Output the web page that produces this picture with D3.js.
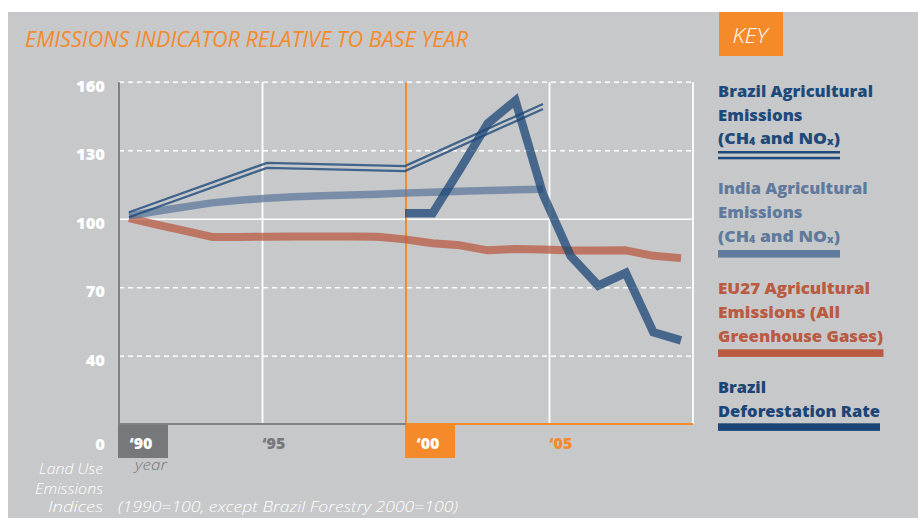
<!DOCTYPE html>
<html>
<head>
<meta charset="utf-8">
<script src="https://cdn.jsdelivr.net/npm/d3@7"></script>
<style>
  html, body { margin: 0; padding: 0; background: #ffffff; }
  svg { display: block; }
  text { font-family: "Open Sans", "DejaVu Sans", sans-serif; }
</style>
</head>
<body>
<svg id="chart" width="918" height="525"></svg>
<script>
// ---- Emissions indices (1990 = 100, Brazil forestry 2000 = 100) ----
const euYears = [1990, 1991, 1992, 1993, 1994, 1995, 1996, 1997, 1998, 1999, 2000,
                 2001, 2002, 2003, 2004, 2005, 2006, 2007, 2008, 2009, 2010];
const euValues = [100.5, 97.7, 95.0, 92.3, 92.3, 92.4, 92.5, 92.5, 92.5, 92.4, 91.2,
                  89.5, 88.6, 86.4, 87.0, 86.8, 86.3, 86.3, 86.4, 84.0, 83.0];

const indiaYears = [1990, 1991, 1992, 1993, 1994, 1995, 1996, 1997,
                    1998, 1999, 2000, 2001, 2002, 2003, 2004, 2005];
const indiaValues = [101.5, 103.5, 105.4, 107.2, 108.3, 109.2, 109.9, 110.3,
                     110.6, 111.0, 111.5, 111.9, 112.3, 112.6, 112.9, 113.2];

const brazilAgYears = [1990, 1995, 2000, 2005];
const brazilAgValues = [102.0, 123.6, 122.2, 149.4];

const forestYears = [2000, 2001, 2002, 2003, 2004, 2005, 2006, 2007, 2008, 2009, 2010];
const forestValues = [102.6, 102.6, 122.0, 142.0, 152.0, 111.0, 84.0, 71.0, 76.5, 50.5, 47.0];

// ---- Axis ticks ----
const yTicks = [0, 40, 70, 100, 130, 160];
const gridYears = [1990, 1995, 2000, 2005, 2010];
const yearLabels = ["\u201890", "\u201895", "\u201800", "\u201805"];

// ---- Colours ----
const BG = "#c7c8ca";
const ORANGE = "#f58a2a";
const DARKGREY = "#77787b";
const C_BRAZIL_AG = "#1e4a7b";
const C_INDIA = "#5f7a9c";
const C_EU = "#b95a41";
const C_FOREST = "#1b4576";

const svg = d3.select("#chart");

// Panel background
svg.append("rect")
  .attr("x", 8).attr("y", 12).attr("width", 910).attr("height", 506)
  .attr("fill", BG);

// Scales: grid columns span the whole plot, data years sit slightly inset
const y = d3.scaleLinear().domain([40, 160]).range([356.3, 82.3]);
const xGrid = d3.scaleLinear().domain([1990, 2010]).range([119, 693]);
const x = d3.scaleLinear().domain([1990, 2010]).range([129, 681]);
const plotTop = y(160);
const plotBottom = 424;

// Title
svg.append("text")
  .attr("x", 25).attr("y", 47)
  .attr("font-size", 21).attr("font-style", "italic").attr("font-weight", 400)
  .attr("fill", ORANGE)
  .attr("textLength", 443).attr("lengthAdjust", "spacingAndGlyphs")
  .text("EMISSIONS INDICATOR RELATIVE TO BASE YEAR");

// KEY tab
svg.append("rect")
  .attr("x", 719).attr("y", 12).attr("width", 64).attr("height", 44)
  .attr("fill", ORANGE);
svg.append("text")
  .attr("x", 750).attr("y", 42.5).attr("text-anchor", "middle")
  .attr("font-size", 20).attr("font-style", "italic").attr("font-weight", 300)
  .attr("fill", "#ffffff")
  .attr("textLength", 35).attr("lengthAdjust", "spacingAndGlyphs")
  .text("KEY");

// Horizontal grid
const grid = svg.append("g");
grid.selectAll("line.h")
  .data(yTicks.filter(v => v > 0))
  .join("line")
  .attr("x1", xGrid(1990)).attr("x2", xGrid(2010))
  .attr("y1", d => y(d)).attr("y2", d => y(d))
  .attr("stroke", "#ffffff")
  .attr("stroke-width", 1.6)
  .attr("stroke-dasharray", d => d === 100 ? null : "5,4");

// Vertical grid
grid.selectAll("line.v")
  .data(gridYears.filter(v => v > 1990))
  .join("line")
  .attr("x1", d => xGrid(d)).attr("x2", d => xGrid(d))
  .attr("y1", plotTop).attr("y2", plotBottom)
  .attr("stroke", d => d === 2000 ? ORANGE : "#ffffff")
  .attr("stroke-width", d => d === 2000 ? 2 : 1.8);

// Left axis and base line
svg.append("line")
  .attr("x1", xGrid(1990)).attr("x2", xGrid(1990))
  .attr("y1", plotTop).attr("y2", plotBottom + 1)
  .attr("stroke", "#808184").attr("stroke-width", 2);
svg.append("line")
  .attr("x1", xGrid(1990)).attr("x2", xGrid(2000))
  .attr("y1", plotBottom).attr("y2", plotBottom)
  .attr("stroke", "#808184").attr("stroke-width", 2);
svg.append("line")
  .attr("x1", xGrid(2000)).attr("x2", xGrid(2010))
  .attr("y1", plotBottom).attr("y2", plotBottom)
  .attr("stroke", ORANGE).attr("stroke-width", 2);

// Y tick labels
svg.append("g").selectAll("text")
  .data(yTicks)
  .join("text")
  .attr("x", 105)
  .attr("y", d => d === 0 ? 450 : y(d) + 9.3)
  .attr("text-anchor", "end")
  .attr("font-size", 16.5).attr("font-weight", 800)
  .attr("fill", "#ffffff")
  .text(d => d);

// Year labels along the base
const yearG = svg.append("g");
gridYears.slice(0, 4).forEach((yr, i) => {
  const boxed = yr === 1990 || yr === 2000;
  if (boxed) {
    yearG.append("rect")
      .attr("x", xGrid(yr) - 1).attr("y", plotBottom + 1)
      .attr("width", 50).attr("height", 33)
      .attr("fill", yr === 1990 ? DARKGREY : ORANGE);
  }
  yearG.append("text")
    .attr("x", boxed ? xGrid(yr) + 22 : xGrid(yr))
    .attr("y", 448.5)
    .attr("text-anchor", boxed ? "middle" : "start")
    .attr("font-size", 16).attr("font-weight", 800)
    .attr("fill", boxed ? "#ffffff" : (yr >= 2000 ? ORANGE : DARKGREY))
    .text(yearLabels[i]);
});

svg.append("text")
  .attr("x", 135).attr("y", 470)
  .attr("font-size", 15).attr("font-style", "italic").attr("font-weight", 300)
  .attr("fill", DARKGREY)
  .attr("textLength", 32).attr("lengthAdjust", "spacingAndGlyphs")
  .text("year");

// Y axis caption
const caption = [["Land Use", 474.3, 64], ["Emissions", 494, 68], ["Indices", 512.3, 55]];
caption.forEach(([t, by, w]) => {
  svg.append("text")
    .attr("x", 103).attr("y", by).attr("text-anchor", "end")
    .attr("font-size", 14).attr("font-style", "italic").attr("font-weight", 300)
    .attr("fill", "#ffffff")
    .attr("textLength", w).attr("lengthAdjust", "spacingAndGlyphs")
    .text(t);
});
svg.append("text")
  .attr("x", 118).attr("y", 511.7)
  .attr("font-size", 14.5).attr("font-style", "italic").attr("font-weight", 300)
  .attr("fill", "#ffffff")
  .attr("textLength", 340).attr("lengthAdjust", "spacingAndGlyphs")
  .text("(1990=100, except Brazil Forestry 2000=100)");

// ---- Series ----
const toPoints = (yrs, vals) => yrs.map((yr, i) => ({ year: yr, value: vals[i] }));
const line = d3.line().x(d => x(d.year)).y(d => y(d.value));

const lines = svg.append("g").attr("fill", "none");

// EU27 agriculture
lines.append("path")
  .attr("d", line(toPoints(euYears, euValues)))
  .attr("stroke", C_EU).attr("stroke-opacity", 0.75)
  .attr("stroke-width", 8).attr("stroke-linejoin", "round");

// India agriculture
lines.append("path")
  .attr("d", line(toPoints(indiaYears, indiaValues)))
  .attr("stroke", C_INDIA).attr("stroke-opacity", 0.75)
  .attr("stroke-width", 7.5).attr("stroke-linejoin", "round");

// Brazil agriculture: double rule
const brazilPts = toPoints(brazilAgYears, brazilAgValues);
[-2.5, 2.5].forEach(off => {
  const offLine = d3.line().x(d => x(d.year)).y(d => y(d.value) + off);
  lines.append("path")
    .attr("d", offLine(brazilPts))
    .attr("stroke", C_BRAZIL_AG).attr("stroke-opacity", 0.8)
    .attr("stroke-width", 2.3);
});

// Brazil deforestation
lines.append("path")
  .attr("d", line(toPoints(forestYears, forestValues)))
  .attr("stroke", C_FOREST).attr("stroke-opacity", 0.75)
  .attr("stroke-width", 8.5).attr("stroke-linejoin", "miter");

// ---- Key ----
const keyItems = [
  { color: C_BRAZIL_AG, swatch: "double",
    lines: [["Brazil Agricultural"], ["Emissions"], ["(CH", "4", " and NO", "x", ")"]],
    base: [96.7, 120.5, 144.3], widths: [155, 84.5, 122], sy: 151, sw: 122 },
  { color: C_INDIA, swatch: "bar",
    lines: [["India Agricultural"], ["Emissions"], ["(CH", "4", " and NO", "x", ")"]],
    base: [194, 218, 242], widths: [149.5, 84.5, 122], sy: 250, sw: 122 },
  { color: C_EU, swatch: "bar",
    lines: [["EU27 Agricultural"], ["Emissions (All"], ["Greenhouse Gases)"]],
    base: [294, 317.7, 341.5], widths: [152, 122, 165], sy: 349.3, sw: 165.5 },
  { color: C_FOREST, swatch: "bar",
    lines: [["Brazil"], ["Deforestation Rate"]],
    base: [392.7, 416.7], widths: [48, 162], sy: 423.3, sw: 162 }
];

const key = svg.append("g");
keyItems.forEach(item => {
  item.lines.forEach((parts, li) => {
    const t = key.append("text")
      .attr("x", 718).attr("y", item.base[li])
      .attr("font-size", 16.5).attr("font-weight", 800)
      .attr("fill", item.color)
      .attr("textLength", item.widths[li]).attr("lengthAdjust", "spacingAndGlyphs");
    parts.forEach((p, pi) => {
      const sub = pi % 2 === 1;
      t.append("tspan")
        .attr("font-size", sub ? 10 : null)
        .attr("dy", sub ? 1 : (pi > 0 ? -1 : null))
        .text(p);
    });
  });
  if (item.swatch === "double") {
    [item.sy + 1.2, item.sy + 7].forEach(ly => {
      key.append("rect")
        .attr("x", 718).attr("y", ly - 1.2)
        .attr("width", item.sw).attr("height", 2.5)
        .attr("fill", item.color);
    });
  } else {
    key.append("rect")
      .attr("x", 718).attr("y", item.sy)
      .attr("width", item.sw).attr("height", 7.6)
      .attr("fill", item.color);
  }
});
</script>
</body>
</html>
